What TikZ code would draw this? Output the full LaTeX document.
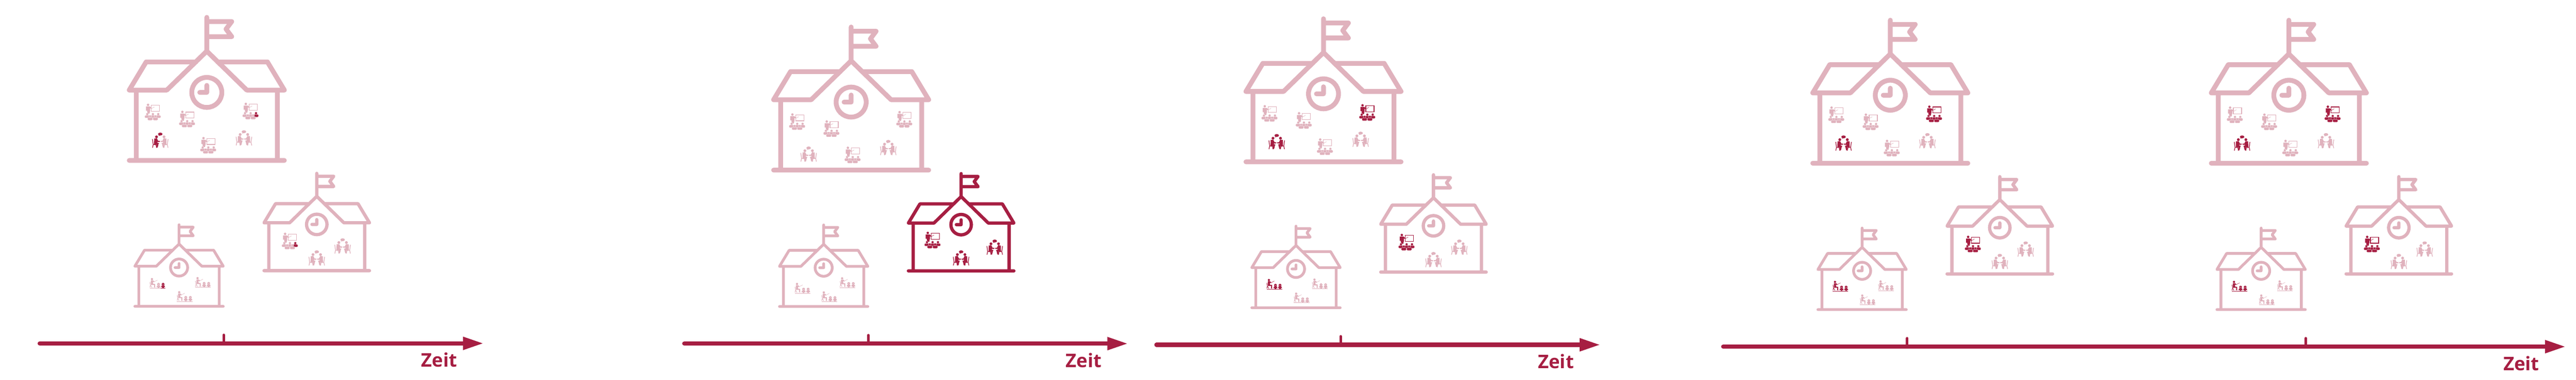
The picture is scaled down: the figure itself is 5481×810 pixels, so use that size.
\documentclass[tikz,border=0pt]{standalone}
\usepackage{fontspec}
\setmainfont{Open Sans}
\usetikzlibrary{arrows.meta}
\definecolor{dk}{RGB}{166,30,66}
\definecolor{lt}{RGB}{224,178,189}
\tikzset{
  housepath/.style={line join=round,line cap=round},
  axisline/.style={dk,line width=4.5pt,line cap=round,-{Triangle[length=22pt,width=13pt]}},
  axistick/.style={dk,line width=2.7pt,line cap=round},
  zeitlabel/.style={dk,anchor=base west,inner sep=0pt,font=\fontsize{20}{24}\selectfont\bfseries}
}
\newcommand{\studentfig}[2]{%
  \begin{scope}[shift={(#1,#2)}]
    \fill[draw=white,line width=.15pt] (0,0) circle[radius=2.7];
    \fill[draw=white,line width=.15pt,rounded corners=1.1pt] (-5.4,-8.4)--(-5.4,-2.5)--(5.4,-2.5)--(5.4,-8.4)--cycle;
  \end{scope}}
\newcommand{\kidfig}[2]{%
  \begin{scope}[shift={(#1,#2)}]
    \fill (0,0) circle[radius=3];
    \fill[white,opacity=.6] (0,-.4) circle[radius=1];
    \fill (-3,-2.7)--(3,-2.7)--(4.2,-6.2)--(1.8,-6.2)--(1.8,-8)--(-1.8,-8)--(-1.8,-6.2)--(-4.2,-6.2)--cycle;
  \end{scope}}
\newcommand{\sitterfig}{%
    \fill[line join=round] (-12.8,3.8)--(-7.2,3.9)--(-4.6,-1.2)--(-.8,-1.2)--(-.8,-3.5)--(-6.2,-3.7)--(-5.9,-5.3)--(-2.6,-6)--(-3.6,-7.5)--(-5.6,-15.5)--(-8.6,-15.8)--(-8,-9.3)--(-13.2,-9.3)--cycle;
    \draw[line width=.7pt,line join=round] (-16.7,2.5)--(-15,-9)--(-16.5,-16) (-15,-9)--(-9,-9.8)--(-8,-16);
    \fill (-8,7.3) circle[radius=3];}
% school building: centre x, base y, scale, colour, icons
\newcommand{\housepic}[5]{%
  \begin{scope}[shift={(#1,#2)},yscale=-1]
    \pgfmathsetmacro{\hwd}{5.1*#3}%
    \begin{scope}[scale=#3]
      \draw[#4,housepath,line width=\hwd pt]
        (0,305)--(0,233)
        (0,296)--(53,296)--(41,280)--(53,264)--(0,264)
        (-23,210)--(-129,210)--(-165,150)--(-85,150)--(0,233)--(85,150)--(165,150)--(129,210)--(23,210)
        (-150,150)--(-150,0) (150,150)--(150,0)
        (-165,0)--(165,0)
        (0,145) circle[radius=32]
        (0,160)--(0,145)--(-15,145);
    \end{scope}
    #5
  \end{scope}}
% class icon: x, y, main colour, colour of the last student
\newcommand{\classicon}[4]{%
  \begin{scope}[shift={(#1,#2)},color=#3]
    \fill (-10,15.5) circle[radius=2.6];
    \fill[line join=round] (-14.5,12)--(-6,12)--(-2,8.6)--(-2.6,7)--(-5.5,8.2)--(-5.5,3)--(-7,-3.5)--(-11.5,-3.5)--(-12,3)--(-14.5,3)--cycle;
    \draw[line width=.3pt] (-3,7.5)--(3.5,11);
    \draw[line width=.6pt] (-3,15) rectangle (14.5,2);
    \studentfig{-11.7}{-4.3}
    \studentfig{.3}{-4.3}
    \begin{scope}[color=#4]\studentfig{11.7}{-4.3}\end{scope}
    \studentfig{-5.7}{-9}
    \studentfig{5.7}{-9}
  \end{scope}}
% meeting icon: x, y, left person, right person, bubble
\newcommand{\meeticon}[5]{%
  \begin{scope}[shift={(#1,#2)}]
    \begin{scope}[color=#3]\sitterfig\end{scope}
    \begin{scope}[color=#4,xscale=-1]\sitterfig\end{scope}
    \fill[#5] (0,13.2) ellipse[x radius=4.8,y radius=3.1];
    \fill[#5] (-2.5,11)--(-4,9.2)--(0,10.5)--cycle;
  \end{scope}}
% small-class icon: x, y, main colour, colour of the second child
\newcommand{\kidicon}[4]{%
  \begin{scope}[shift={(#1,#2)},color=#3]
    \fill (-11.7,9) circle[radius=2.4];
    \fill[line join=round] (-14,6.2)--(-9,6.2)--(-6.5,3.4)--(-7.2,2.2)--(-9.6,3.5)--(-9.4,-1)--(-5,-1.5)--(-5,-9)--(-7,-9)--(-7.2,-3.5)--(-14,-3.5)--cycle;
    \draw[line width=.5pt] (-16,3)--(-14.8,-3.5)--(-16,-9) (-14.8,-3.5)--(-12,-9);
    \draw[line width=.3pt] (-7,3.4)--(0,6.8);
    \kidfig{2.3}{-2}
    \draw[line width=.6pt] (-16.5,-10.5)--(7,-10.5);
    \begin{scope}[color=#4]
      \kidfig{12}{-2}
      \draw[line width=.6pt] (7,-10.5)--(16.5,-10.5);
    \end{scope}
  \end{scope}}
\newcommand{\largefront}{%
  \classicon{-115}{103}{lt}{lt}\classicon{-42}{88}{lt}{lt}\classicon{3}{32}{lt}{lt}\meeticon{79}{48}{lt}{lt}{lt}}
\newcommand{\kidsrest}{\kidicon{51}{51}{lt}{lt}\kidicon{12}{21}{lt}{lt}}
\newcommand{\timeaxis}[3]{% id, start x, end x, y set by \axy
  \coordinate (#1s) at (#2,\axy);
  \coordinate (#1e) at (#3,\axy);
  \draw[axisline] (#1s) -- (#1e);}
\newcommand{\timetick}[2]{% id, x
  \coordinate (#1t) at (#2,\tky);
  \coordinate (#1b) at (#2,\axy);
  \draw[axistick] (#1t) -- (#1b);}
\begin{document}
\begin{tikzpicture}[x=.5pt,y=-.5pt]
\useasboundingbox (0,0) rectangle (5481,810);
\fill[white] (0,0) rectangle (5481,810);
% Panel 1
\housepic{440}{342}{1}{lt}{\largefront\classicon{93}{105}{lt}{dk}\meeticon{-99}{43}{dk}{lt}{dk}}
\housepic{674}{577}{.68}{lt}{\classicon{-57.4}{63}{lt}{dk}\meeticon{0}{27}{lt}{lt}{lt}\meeticon{55}{52.7}{lt}{lt}{lt}}
\housepic{381}{653}{.57}{lt}{\kidicon{-46}{49}{lt}{dk}\kidsrest}
\def\axy{732}\def\tky{714}
\timeaxis{a}{84.5}{1029}\timetick{a}{476}
\node[zeitlabel] (z1) at (896,782.5) {Zeit};
% Panel 2
\housepic{1811}{362.6}{1}{lt}{\largefront\classicon{113}{108}{lt}{lt}\meeticon{-90.5}{34}{lt}{lt}{lt}}
\housepic{2045}{577.5}{.68}{dk}{\classicon{-61}{65.5}{dk}{dk}\meeticon{0}{27.5}{dk}{dk}{dk}\meeticon{71.5}{50.5}{dk}{dk}{dk}}
\housepic{1752.5}{653.4}{.57}{lt}{\kidicon{-45}{39}{lt}{lt}\kidsrest}
\def\axy{732.5}\def\tky{714.5}
\timeaxis{b}{1456}{2400}\timetick{b}{1847.5}
\node[zeitlabel] (z2) at (2267,783) {Zeit};
% Panel 3
\housepic{2816}{345}{1}{lt}{\largefront\classicon{93}{105}{dk}{dk}\meeticon{-99.5}{43}{dk}{dk}{dk}}
\housepic{3050}{580}{.68}{lt}{\classicon{-57.4}{63.5}{dk}{dk}\meeticon{0}{26.5}{lt}{lt}{lt}\meeticon{55}{53}{lt}{lt}{lt}}
\housepic{2757.5}{656}{.57}{lt}{\kidicon{-46}{50}{dk}{dk}\kidsrest}
\def\axy{735}\def\tky{717}
\timeaxis{c}{2460.5}{3405}\timetick{c}{2852.5}
\node[zeitlabel] (z3) at (3272,785.5) {Zeit};
% Panels 4 and 5
\housepic{4022}{348}{1}{lt}{\largefront\classicon{93}{105}{dk}{dk}\meeticon{-99.5}{43}{dk}{dk}{dk}}
\housepic{4255}{584}{.68}{lt}{\classicon{-57.4}{63.5}{dk}{dk}\meeticon{0}{26.5}{lt}{lt}{lt}\meeticon{55}{53}{lt}{lt}{lt}}
\housepic{3962}{660}{.57}{lt}{\kidicon{-46}{50}{dk}{dk}\kidsrest}
\housepic{4870}{348}{1}{lt}{\largefront\classicon{93}{105}{dk}{dk}\meeticon{-99.5}{43}{dk}{dk}{dk}}
\housepic{5104}{584}{.68}{lt}{\classicon{-57.4}{63.5}{dk}{dk}\meeticon{0}{26.5}{lt}{lt}{lt}\meeticon{55}{53}{lt}{lt}{lt}}
\housepic{4811}{660}{.57}{lt}{\kidicon{-46}{50}{dk}{dk}\kidsrest}
\def\axy{739}\def\tky{721}
\timeaxis{d}{3666.5}{5459}\timetick{d}{4058}\timetick{e}{4906}
\node[zeitlabel] (z4) at (5326,789.5) {Zeit};
\end{tikzpicture}
\end{document}
